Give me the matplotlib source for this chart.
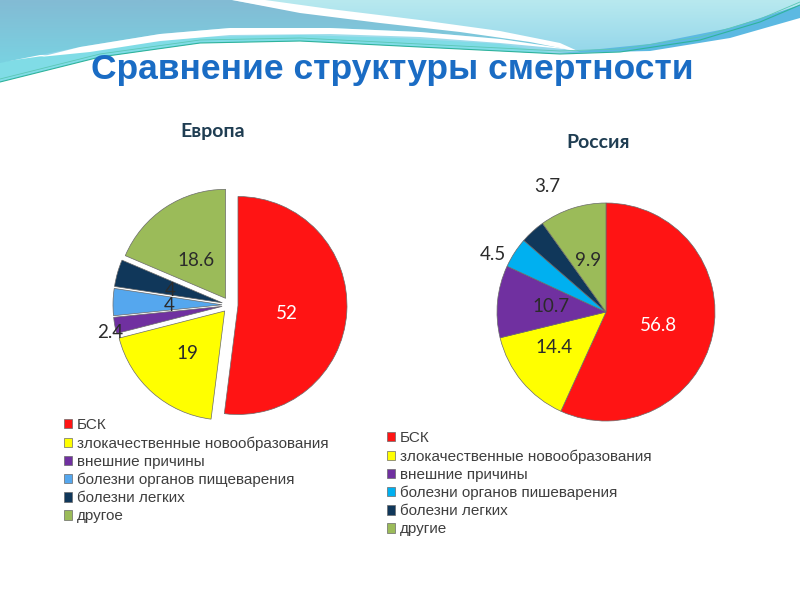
import numpy as np
import matplotlib
matplotlib.use("Agg")
import matplotlib.pyplot as plt
from matplotlib.patches import Polygon
from matplotlib.colors import to_rgb

W, H = 800, 600

title = "Сравнение структуры смертности"
eu_title = "Европа"
ru_title = "Россия"

eu_causes = ["БСК", "злокачественные новообразования", "внешние причины",
             "болезни органов пищеварения", "болезни легких", "другое"]
ru_causes = ["БСК", "злокачественные новообразования", "внешние причины",
             "болезни органов пишеварения", "болезни легких", "другие"]
europe = [52, 19, 2.4, 4, 4, 18.6]
russia = [56.8, 14.4, 10.7, 4.5, 3.7, 9.9]

eu_colors = ["#ff1414", "#ffff00", "#7030a0", "#55a7ee", "#10375a", "#9bbb59"]
ru_colors = ["#ff1414", "#ffff00", "#7030a0", "#00b0f0", "#10375a", "#9bbb59"]

fig = plt.figure(figsize=(8, 6), dpi=100)
fig.patch.set_facecolor("white")

# header decoration, pixel coords
bg = fig.add_axes([0, 0, 1, 1], zorder=0)
bg.axis("off")


def grad_fill(pts, c_top, c_bot, y0, y1, z):
    patch = Polygon(pts, closed=True, fc="none", ec="none")
    bg.add_patch(patch)
    t = np.linspace(0, 1, 64)[:, None]
    img = (1 - t) * np.array(to_rgb(c_top)) + t * np.array(to_rgb(c_bot))
    im = bg.imshow(img[:, None, :], extent=(0, W, y1, y0), aspect="auto",
                   zorder=z, interpolation="bilinear")
    im.set_clip_path(patch)


gx = [0, 100, 200, 300, 400, 500, 560, 620, 700, 760, 800]
gy = [82, 57, 43, 41, 46, 51, 54, 52, 40, 22, 5]
grad_fill(list(zip(gx, gy)) + [(800, 0), (0, 0)], "#b8e9ef", "#93d6ea", 0, 55, 1)
# lower turquoise strip on the left
bg.add_patch(Polygon([(0, 82), (100, 57), (200, 43), (300, 41), (400, 46),
                      (500, 51), (560, 54), (500, 44), (400, 38), (300, 35),
                      (200, 37), (100, 48), (0, 62)], closed=True,
                     fc="#80dce6", ec="none", zorder=2))
# dark blue region top left
grad_fill([(0, 0), (232, 0), (300, 12), (380, 22), (460, 31),
           (530, 40), (575, 50), (500, 39), (420, 32), (330, 28),
           (230, 28), (160, 34), (80, 47), (0, 63)],
          "#83bbd4", "#79d3e2", 0, 66, 3)
# white waves
bg.add_patch(Polygon([(40, 57), (80, 47), (160, 34), (230, 28), (330, 28),
                      (420, 32), (500, 39), (575, 50), (500, 43), (420, 37),
                      (330, 34), (230, 35), (160, 41), (90, 52)], closed=True,
                     fc="white", ec="none", zorder=4))
bg.add_patch(Polygon([(232, 0), (265, 0), (330, 9), (420, 20), (500, 31),
                      (560, 43), (580, 52), (530, 42), (460, 32), (380, 23),
                      (300, 13)], closed=True, fc="white", ec="none", zorder=4))
# right blue band
bg.add_patch(Polygon([(560, 53), (650, 51), (730, 38), (800, 18), (800, 5),
                      (730, 28), (650, 44)], closed=True,
                     fc="#5cb9e2", ec="none", zorder=4))
bg.plot(gx, gy, color="#2fb39c", lw=0.8, zorder=5)
bg.plot(gx, [v - 3 for v in gy], color="#5cc7b5", lw=0.6, zorder=5)
bg.set_xlim(0, W)
bg.set_ylim(H, 0)

fig.text(392 / W, 1 - 69 / H, title, ha="center", va="center",
         fontsize=25.5, fontweight="bold", color="#1a6cc4",
         family="Liberation Sans", zorder=6)

R = 109


def draw_pie(cx, cy, vals, colors, explode, dists, shifts, lab_colors):
    half = 150
    ax = fig.add_axes([(cx - half) / W, 1 - (cy + half) / H,
                       2 * half / W, 2 * half / H], zorder=2)
    # explode is in data units here (pixels)
    wedges, _ = ax.pie(vals, colors=colors, startangle=90, counterclock=False,
                       radius=R, explode=[explode] * len(vals),
                       wedgeprops=dict(linewidth=0.5, edgecolor="#6a6a6a"))
    ax.set_xlim(-half, half)
    ax.set_ylim(-half, half)
    ax.set_aspect("equal")
    ax.axis("off")
    for w, v, d, s, c in zip(wedges, vals, dists, shifts, lab_colors):
        ang = np.deg2rad((w.theta1 + w.theta2) / 2 + s)
        x0, y0 = w.center
        ax.text(x0 + d * R * np.cos(ang), y0 + d * R * np.sin(ang), f"{v:g}",
                ha="center", va="center", fontsize=13.5, color=c, family="Lato")
    return wedges


dark = "#2b2b2b"
eu_w = draw_pie(230, 305, europe, eu_colors, 8,
                [0.45, 0.52, 1.05, 0.48, 0.49, 0.44],
                [-6, 0, 3, 2.3, 2, 4],
                ["white", dark, dark, dark, dark, dark])
ru_w = draw_pie(606, 312, russia, ru_colors, 0,
                [0.5, 0.58, 0.51, 1.16, 1.27, 0.5],
                [-2.5, -5, 0, 6, -17, 1],
                ["white", dark, dark, dark, dark, dark])

fig.text(213 / W, 1 - 132 / H, eu_title, ha="center", va="center",
         fontsize=14, fontweight="bold", color="#1f3d52", family="Lato")
fig.text(598 / W, 1 - 143 / H, ru_title, ha="center", va="center",
         fontsize=14, fontweight="bold", color="#1f3d52", family="Lato")

leg_kw = dict(loc="upper left", frameon=False, borderpad=0, borderaxespad=0,
              handlelength=0.55, handleheight=0.55, handletextpad=0.3,
              labelspacing=0.27, labelcolor="#3f3f3f",
              prop=dict(family="Liberation Sans", size=11))
fig.legend(eu_w, eu_causes, bbox_to_anchor=(64 / W, 1 - 418 / H), **leg_kw)
fig.legend(ru_w, ru_causes, bbox_to_anchor=(387 / W, 1 - 431 / H), **leg_kw)

fig.savefig("out.png", dpi=100)
